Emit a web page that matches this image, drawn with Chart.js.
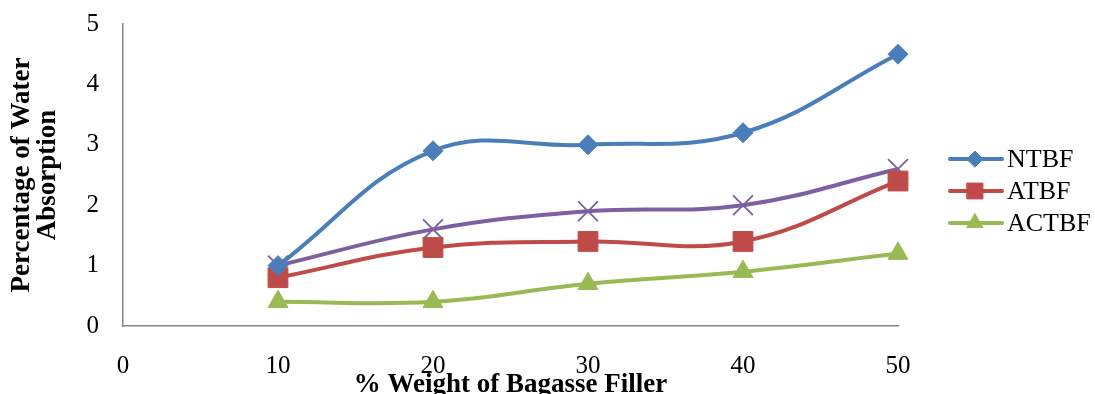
<!DOCTYPE html>
<html>
<head>
<meta charset="utf-8">
<script src="https://cdn.jsdelivr.net/npm/chart.js@4.4.1/dist/chart.umd.min.js"></script>
<style>
  html, body { margin: 0; padding: 0; background: #fff; }
  #wrap { width: 1095px; height: 394px; position: relative; }
</style>
</head>
<body>
<div id="wrap"><canvas id="waterChart"></canvas></div>
<script>
// filler loading (% weight) and water absorption (%) per fibre treatment
const fillerWeight = [10, 20, 30, 40, 50];
const ntbf = [1.0, 2.9, 3.0, 3.2, 4.5];
const atbf = [0.8, 1.3, 1.4, 1.4, 2.4];
const actbf = [0.4, 0.4, 0.7, 0.9, 1.2];
const series4 = [1.0, 1.6, 1.9, 2.0, 2.6];
const xTicks = [0, 10, 20, 30, 40, 50];
const yTicks = [0, 1, 2, 3, 4, 5];

const serif = "'Liberation Serif', 'Times New Roman', serif";
const axisGray = "#868686";

const toPoints = (values) => values.map((v, i) => ({ x: fillerWeight[i], y: v }));

const makeSeries = (label, values, color, pointStyle, radius, inLegend) => ({
  label: label,
  data: toPoints(values),
  borderColor: color,
  backgroundColor: color,
  borderWidth: 4,
  tension: 0.4,
  pointStyle: pointStyle,
  pointRadius: radius,
  pointHoverRadius: radius,
  pointBorderWidth: pointStyle === "crossRot" ? 1.8 : 1,
  inLegend: inLegend,
  clip: false,
});

// legend on the right: short line with the marker on it, then the label
const sideLegend = {
  id: "sideLegend",
  afterDraw(chart) {
    const ctx = chart.ctx;
    let y = 159;
    chart.data.datasets.forEach((ds) => {
      if (!ds.inLegend) return;
      ctx.save();
      ctx.strokeStyle = ds.borderColor;
      ctx.fillStyle = ds.backgroundColor;
      ctx.lineWidth = 4;
      ctx.lineCap = "round";
      ctx.beginPath();
      ctx.moveTo(950, y);
      ctx.lineTo(1002, y);
      ctx.stroke();
      ctx.lineWidth = 1;
      Chart.helpers.drawPoint(ctx, {
        pointStyle: ds.pointStyle,
        radius: ds.pointRadius * 0.8,
        borderWidth: 1,
        rotation: 0,
      }, 975, y);
      ctx.fillStyle = "#000";
      ctx.font = "26px " + serif;
      ctx.textBaseline = "middle";
      ctx.textAlign = "left";
      ctx.fillText(ds.label, 1007, y + 1);
      ctx.restore();
      y += 32;
    });
  },
};

const ctx = document.getElementById("waterChart").getContext("2d");
const waterChart = new Chart(ctx, {
  type: "line",
  data: {
    datasets: [
      makeSeries("NTBF", ntbf, "#4a7ebb", "rectRot", 10, true),
      makeSeries("ATBF", atbf, "#be4b48", "rect", 14, true),
      makeSeries("ACTBF", actbf, "#98b954", "triangle", 11.5, true),
      makeSeries("Series4", series4, "#7d60a0", "crossRot", 14, false),
    ],
  },
  options: {
    responsive: true,
    maintainAspectRatio: false,
    animation: false,
    layout: { padding: { top: 24, right: 197, left: 0, bottom: 0 } },
    plugins: {
      legend: { display: false },
      tooltip: { enabled: false },
    },
    scales: {
      x: {
        type: "linear",
        min: 0,
        max: 50,
        afterBuildTicks: (scale) => {
          scale.ticks = xTicks.map((v) => ({ value: v }));
        },
        afterFit: (scale) => {
          scale.height = 68;
        },
        grid: { display: false, drawTicks: false },
        border: { display: true, color: axisGray, width: 1.5 },
        ticks: {
          color: "#000",
          padding: 25,
          maxRotation: 0,
          font: { family: serif, size: 25 },
        },
        title: {
          display: true,
          text: "% Weight of Bagasse Filler",
          color: "#000",
          font: { family: serif, size: 27, weight: "bold", lineHeight: 1 },
          padding: { top: 0, bottom: -5 },
        },
      },
      y: {
        min: 0,
        max: 5,
        afterBuildTicks: (scale) => {
          scale.ticks = yTicks.map((v) => ({ value: v }));
        },
        afterFit: (scale) => {
          scale.width = 123;
          // keep the top label from pushing the plot area down
          scale.paddingTop = 0;
          scale.paddingBottom = 0;
        },
        grid: { display: false, drawTicks: false },
        border: { display: true, color: axisGray, width: 1.5 },
        ticks: {
          color: "#000",
          padding: 24,
          font: { family: serif, size: 25 },
        },
        title: {
          display: true,
          text: ["Percentage of Water", "Absorption"],
          color: "#000",
          font: { family: serif, size: 27, weight: "bold", lineHeight: 0.96 },
          padding: { top: 9, bottom: 0 },
        },
      },
    },
  },
  plugins: [sideLegend],
});
</script>
</body>
</html>
